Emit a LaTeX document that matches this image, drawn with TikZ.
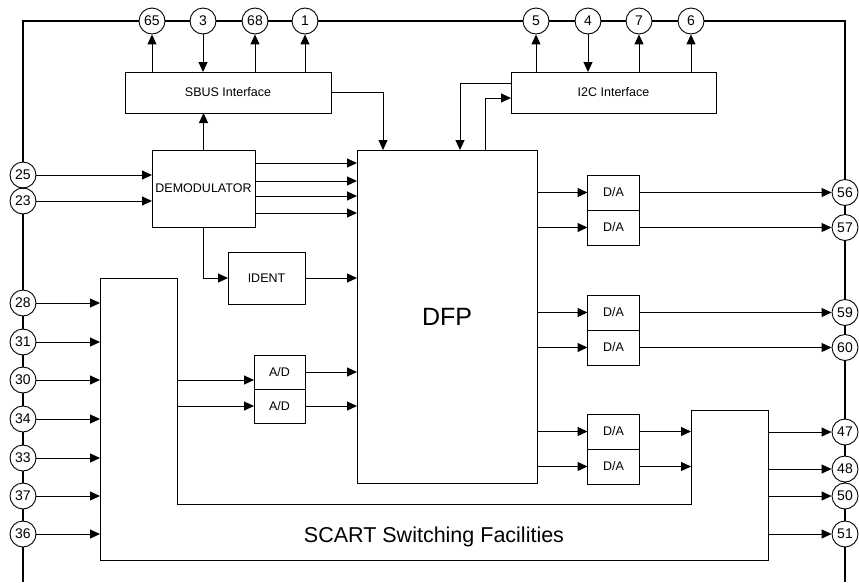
\documentclass[tikz,border=0pt]{standalone}
\usepackage{fontspec}
\setmainfont{Liberation Sans}
\usetikzlibrary{arrows.meta, positioning}

\begin{document}
\begin{tikzpicture}[
    x=1pt, y=-1pt,
    block/.style={rectangle, draw, fill=white, line width=1pt, inner sep=1pt, outer sep=0pt, font=\fontsize{12.5}{14}\selectfont},
    pin/.style={circle, draw, fill=white, line width=0.9pt, minimum size=26pt, inner sep=0pt, font=\fontsize{14}{16}\selectfont},
    arrow/.style={-{Triangle[length=10pt, width=9pt]}, line width=1pt},
    frame/.style={line width=1.6pt}
]
\useasboundingbox (0,0) rectangle (859,582);

% Frame corners
\coordinate (tl) at (23,21);
\coordinate (tr) at (845,21);
\coordinate (bl) at (23,582);
\coordinate (br) at (845,582);

% Top pins
\node[pin] (p65) at (152,21) {65};
\node[pin] (p3) at (203,21) {3};
\node[pin] (p68) at (255,21) {68};
\node[pin] (p1) at (305,21) {1};
\node[pin] (p5) at (536,21) {5};
\node[pin] (p4) at (588,21) {4};
\node[pin] (p7) at (639,21) {7};
\node[pin] (p6) at (691,21) {6};

% Left pins
\node[pin] (p25) at (23,175) {25};
\node[pin] (p23) at (23,201) {23};
\node[pin] (p28) at (23,303) {28};
\node[pin] (p31) at (23,342) {31};
\node[pin] (p30) at (23,380) {30};
\node[pin] (p34) at (23,419) {34};
\node[pin] (p33) at (23,458) {33};
\node[pin] (p37) at (23,496) {37};
\node[pin] (p36) at (23,534) {36};

% Right pins
\node[pin] (p56) at (845,192.5) {56};
\node[pin] (p57) at (845,227.5) {57};
\node[pin] (p59) at (845,312.5) {59};
\node[pin] (p60) at (845,347.5) {60};
\node[pin] (p47) at (845,432) {47};
\node[pin] (p48) at (845,469) {48};
\node[pin] (p50) at (845,496) {50};
\node[pin] (p51) at (845,534) {51};

% Chip frame through the pins
\draw[frame] (bl) -- (p36) -- (p37) -- (p33) -- (p34) -- (p30) -- (p31) -- (p28) -- (p23) -- (p25) -- (tl)
    -- (p65) -- (p3) -- (p68) -- (p1) -- (p5) -- (p4) -- (p7) -- (p6) -- (tr)
    -- (p56) -- (p57) -- (p59) -- (p60) -- (p47) -- (p48) -- (p50) -- (p51) -- (br);

% SCART block
\coordinate (sc1) at (100,278);
\coordinate (sc2) at (177,278);
\coordinate (sc3) at (177,504);
\coordinate (sc4) at (691,504);
\coordinate (sc5) at (691,410);
\coordinate (sc6) at (768,410);
\coordinate (sc7) at (768,560);
\coordinate (sc8) at (100,560);
\draw[fill=white, line width=1pt] (sc1) -- (sc2) -- (sc3) -- (sc4) -- (sc5) -- (sc6) -- (sc7) -- (sc8) -- cycle;
\node[font=\fontsize{21.5}{24}\selectfont] (scart) at (434,537) {SCART Switching Facilities};

% Blocks
\node[block, minimum width=206pt, minimum height=41pt] (sbus) at (228,92.5) {SBUS Interface};
\node[block, minimum width=205pt, minimum height=41pt] (i2c) at (613.5,92.5) {I2C Interface};
\node[block, minimum width=103pt, minimum height=77pt] (demod) at (203.5,188.5) {DEMODULATOR};
\node[block, minimum width=180pt, minimum height=333pt, font=\fontsize{25}{28}\selectfont] (dfp) at (447,316.5) {DFP};
\node[block, minimum width=77pt, minimum height=52pt] (ident) at (266.5,278) {IDENT};
\node[block, minimum width=51pt, minimum height=34pt] (ad1) at (279.5,372) {A/D};
\node[block, minimum width=51pt, minimum height=34pt, below=0pt of ad1] (ad2) {A/D};
\node[block, minimum width=52pt, minimum height=35pt] (da1) at (613.5,192.5) {D/A};
\node[block, minimum width=52pt, minimum height=35pt, below=0pt of da1] (da2) {D/A};
\node[block, minimum width=52pt, minimum height=35pt] (da3) at (613.5,312.5) {D/A};
\node[block, minimum width=52pt, minimum height=35pt, below=0pt of da3] (da4) {D/A};
\node[block, minimum width=52pt, minimum height=35pt] (da5) at (613.5,431.5) {D/A};
\node[block, minimum width=52pt, minimum height=35pt, below=0pt of da5] (da6) {D/A};

% SBUS pins
\draw[arrow] (sbus.north -| p65) -- (p65);
\draw[arrow] (p3) -- (sbus.north -| p3);
\draw[arrow] (sbus.north -| p68) -- (p68);
\draw[arrow] (sbus.north -| p1) -- (p1);

% I2C pins
\draw[arrow] (i2c.north -| p5) -- (p5);
\draw[arrow] (p4) -- (i2c.north -| p4);
\draw[arrow] (i2c.north -| p7) -- (p7);
\draw[arrow] (i2c.north -| p6) -- (p6);

% Interfaces to DFP
\draw[arrow] (sbus.east) -| ([xshift=26pt]dfp.north west);
\draw[arrow] ([yshift=-11pt]i2c.north west) -| ([xshift=103pt]dfp.north west);
\draw[arrow] ([xshift=128pt]dfp.north west) |- ([yshift=-26pt]i2c.north west);

% Demodulator
\draw[arrow] (p25) -- (p25 -| demod.west);
\draw[arrow] (p23) -- (p23 -| demod.west);
\draw[arrow] (demod.north) -- (demod.north |- sbus.south);
\foreach \dy in {13,31,46,63}
    \draw[arrow] ([yshift=-\dy pt]demod.north east) -- ([yshift=-\dy pt]dfp.north west);
\draw[arrow] (demod.south) |- (ident.west);
\draw[arrow] (ident.east) -- (ident.east -| dfp.west);

% SCART inputs
\foreach \p in {p28,p31,p30,p34,p33,p37,p36}
    \draw[arrow] (\p) -- (\p -| sc1);

% A/D converters
\draw[arrow] ([yshift=-8pt]ad1.west -| sc2) -- ([yshift=-8pt]ad1.west);
\draw[arrow] (ad2.west -| sc2) -- (ad2.west);
\draw[arrow] (ad1.east) -- (ad1.east -| dfp.west);
\draw[arrow] (ad2.east) -- (ad2.east -| dfp.west);

% D/A converters
\foreach \d in {da1,da2,da3,da4,da5,da6}
    \draw[arrow] (\d.west -| dfp.east) -- (\d.west);
\draw[arrow] (da1.east) -- (p56);
\draw[arrow] (da2.east) -- (p57);
\draw[arrow] (da3.east) -- (p59);
\draw[arrow] (da4.east) -- (p60);
\draw[arrow] (da5.east) -- (da5.east -| sc5);
\draw[arrow] (da6.east) -- (da6.east -| sc5);

% SCART outputs
\foreach \p in {p47,p48,p50,p51}
    \draw[arrow] (\p -| sc6) -- (\p);

\end{tikzpicture}
\end{document}
